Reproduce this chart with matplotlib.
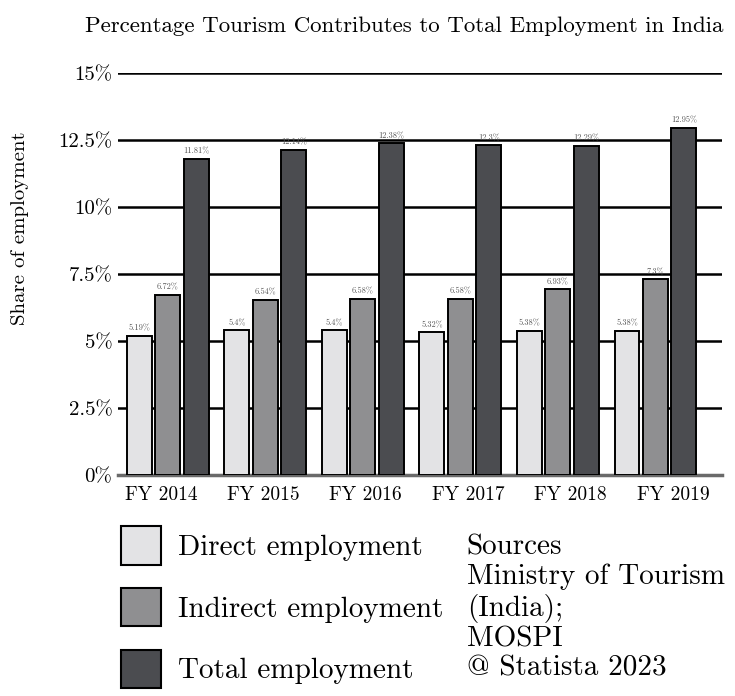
import matplotlib
matplotlib.use("Agg")
import matplotlib.pyplot as plt
import numpy as np
from matplotlib.patches import Patch

years = ["FY 2014", "FY 2015", "FY 2016", "FY 2017", "FY 2018", "FY 2019"]
direct = [5.19, 5.4, 5.4, 5.32, 5.38, 5.38]
indirect = [6.72, 6.54, 6.58, 6.58, 6.93, 7.3]
total = [11.81, 12.14, 12.38, 12.3, 12.29, 12.95]
series_names = ["Direct employment", "Indirect employment", "Total employment"]
colors = ["#e3e3e5", "#8f8f91", "#4b4c50"]
yticks = [0, 2.5, 5, 7.5, 10, 12.5, 15]
ytick_labels = ["0%", "2.5%", "5%", "7.5%", "10%", "12.5%", "15%"]

plt.rcParams["font.family"] = "serif"
plt.rcParams["font.serif"] = ["cmr10", "DejaVu Serif"]
plt.rcParams["axes.formatter.use_mathtext"] = True

fig = plt.figure(figsize=(7.35, 6.96), dpi=100)
ax = fig.add_axes([0.1605, 0.3175, 0.8215, 0.5776])

x = np.arange(len(years))
w = 0.256
offs = [-0.292, 0.0, 0.292]
for vals, off, c in zip([direct, indirect, total], offs, colors):
    bars = ax.bar(x + off, vals, width=w, color=c, edgecolor="black",
                  linewidth=1.4, zorder=3)
    for b, v in zip(bars, vals):
        ax.text(b.get_x() + b.get_width() / 2, v + 0.12, f"{v:g}%",
                ha="center", va="bottom", fontsize=6, color="#555555", zorder=4)

ax.set_ylim(0, 15)
ax.set_xlim(-0.512, 5.68)
ax.set_yticks(yticks)
ax.set_yticklabels(ytick_labels, fontsize=15)
ax.set_xticks(-0.07 + 1.05 * x)
ax.set_xticklabels(years, fontsize=14)
ax.tick_params(axis="y", length=0, pad=4)
ax.tick_params(axis="x", length=0, pad=8)
ax.yaxis.grid(True, color="black", linewidth=1.8, zorder=0)
ax.set_axisbelow(True)
for s in ["top", "right", "left"]:
    ax.spines[s].set_visible(False)
ax.spines["bottom"].set_color("#6a6a6a")
ax.spines["bottom"].set_linewidth(2.5)
ax.set_ylabel("Share of employment", fontsize=15)
ax.yaxis.set_label_coords(-0.148, 0.614)

fig.text(0.55, 0.962, "Percentage Tourism Contributes to Total Employment in India",
         ha="center", va="center", fontsize=16.5)

handles = [Patch(facecolor=c, edgecolor="black", linewidth=1.5) for c in colors]
fig.legend(handles, series_names, loc="upper left", bbox_to_anchor=(0.165, 0.244),
           frameon=False, fontsize=21, handlelength=1.35, handleheight=1.65,
           labelspacing=0.8, handletextpad=0.6, borderaxespad=0, borderpad=0)

fig.text(0.635, 0.232, "Sources\nMinistry of Tourism\n(India);\nMOSPI\n@ Statista 2023",
         ha="left", va="top", fontsize=21, linespacing=1.15)

fig.savefig("out.png", dpi=100)
